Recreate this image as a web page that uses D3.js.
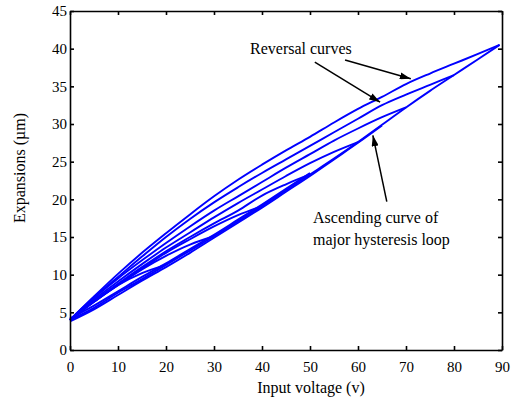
<!DOCTYPE html>
<html lang="en">
  <head>
    <meta charset="UTF-8" />
    <title>Hysteresis</title>
    <style>
      body { margin: 0; background: #fff; }
      svg text { font-family: "Liberation Serif", "DejaVu Serif", Times, serif !important; fill: #000; }
      .axis path, .axis line { stroke: #000; stroke-width: 1.6; }
    </style>
  </head>
  <body>
    <div id="app"></div>
    <script src="https://cdn.jsdelivr.net/npm/d3@7"></script>
    <script>
      // tick values
      const xTicks = [0, 10, 20, 30, 40, 50, 60, 70, 80, 90];
      const yTicks = [0, 5, 10, 15, 20, 25, 30, 35, 40, 45];

      // ascending curve of the major loop (voltage, expansion)
      const ascending = [[0,4.0],[5,5.6],[10,7.6],[15,9.4],[20,11.3],[25,13.2],[30,15.1],[35,17.1],[40,19.1],[45,21.2],[50,23.3],[55,25.4],[60,27.6],[65,29.9],[70,32.2],[75,34.4],[80,36.5],[85,38.6],[89.5,40.5]];
      // repeated ascending passes (they thicken the lower band)
      const ascending2 = [[0,3.8],[5,5.4],[10,7.3],[15,9.2],[20,11.0],[25,12.9],[30,14.9],[35,16.9],[40,18.9],[45,21.0],[50,23.1],[55,25.3],[60,27.5],[65,29.8]];
      const ascending3 = [[0,4.2],[5,5.9],[10,7.8],[15,9.7],[20,11.5],[25,13.4],[30,15.3],[35,17.3],[40,19.3],[45,21.4],[50,23.5]];
      // descending curves from the reversal points 90, 80, 70, 60, 50, 40, 30, 20 V
      const rev90 = [[89.5,40.5],[85,39.3],[80,38.0],[75,36.7],[70,35.3],[65,33.6],[60,32.0],[55,30.2],[50,28.3],[45,26.5],[40,24.6],[35,22.6],[30,20.4],[25,18.0],[20,15.5],[15,12.9],[10,10.1],[5,7.1],[0,4.0]];
      const rev80 = [[80,36.5],[75,35.2],[70,33.9],[65,32.5],[60,30.7],[55,28.9],[50,27.1],[45,25.3],[40,23.5],[35,21.6],[30,19.6],[25,17.4],[20,15.0],[15,12.4],[10,9.7],[5,7.0],[0,4.0]];
      const rev70 = [[70,32.2],[65,30.9],[60,29.4],[55,27.8],[50,26.0],[45,24.2],[40,22.3],[35,20.4],[30,18.5],[25,16.4],[20,14.2],[15,11.9],[10,9.5],[5,6.9],[0,4.0]];
      const rev60 = [[60,27.6],[55,26.3],[50,24.8],[45,23.1],[40,21.3],[35,19.5],[30,17.6],[25,15.6],[20,13.6],[15,11.4],[10,9.1],[5,6.7],[0,4.0]];
      const rev50 = [[50,23.3],[45,22.0],[40,20.5],[35,18.5],[30,16.8],[25,15.0],[20,13.1],[15,11.0],[10,8.8],[5,6.5],[0,4.0]];
      const rev40 = [[40,19.1],[35,17.9],[30,16.4],[25,14.7],[20,12.9],[15,10.8],[10,8.7],[5,6.4],[0,4.0]];
      const rev30 = [[30,15.1],[25,14.0],[20,12.5],[15,10.7],[10,8.6],[5,6.4],[0,4.0]];
      const rev20 = [[20,11.3],[15,10.2],[10,8.6],[5,6.4],[0,4.0]];
      const curves = [ascending, ascending2, ascending3, rev90, rev80, rev70, rev60, rev50, rev40, rev30, rev20];

      const width = 513, height = 403;
      const margin = { left: 70, right: 11, top: 11, bottom: 53 };

      const svg = d3.select("#app").append("svg")
        .attr("width", width).attr("height", height);

      const x = d3.scaleLinear().domain([0, 90]).range([margin.left, width - margin.right]);
      const y = d3.scaleLinear().domain([0, 45]).range([height - margin.bottom, margin.top]);

      // curves
      const line = d3.line().x(d => x(d[0])).y(d => y(d[1])).curve(d3.curveMonotoneX);
      svg.append("g").selectAll("path").data(curves).enter().append("path")
        .attr("d", line)
        .attr("fill", "none")
        .attr("stroke", "#0000ff")
        .attr("stroke-width", 1.9)
        .attr("stroke-linejoin", "round");

      // axes, ticks pointing inwards, box on all four sides
      const tick = 4;
      svg.append("g").attr("class", "axis")
        .attr("transform", `translate(0,${y(0)})`)
        .call(d3.axisBottom(x).tickValues(xTicks).tickSizeInner(-tick).tickSizeOuter(0).tickPadding(11))
        .call(g => g.selectAll("text").attr("font-size", 15));
      svg.append("g").attr("class", "axis")
        .attr("transform", `translate(${x(0)},0)`)
        .call(d3.axisLeft(y).tickValues(yTicks).tickSizeInner(-tick).tickSizeOuter(0).tickPadding(3))
        .call(g => g.selectAll("text").attr("font-size", 15));
      svg.append("g").attr("class", "axis")
        .attr("transform", `translate(0,${y(45)})`)
        .call(d3.axisTop(x).tickValues(xTicks).tickSizeInner(-tick).tickSizeOuter(0).tickFormat(""));
      svg.append("g").attr("class", "axis")
        .attr("transform", `translate(${x(90)},0)`)
        .call(d3.axisRight(y).tickValues(yTicks).tickSizeInner(-tick).tickSizeOuter(0).tickFormat(""));

      // axis titles
      svg.append("text")
        .attr("x", 311).attr("y", 393)
        .attr("text-anchor", "middle").attr("font-size", 16)
        .text("Input voltage (v)");
      svg.append("text")
        .attr("transform", `translate(25,168) rotate(-90)`)
        .attr("text-anchor", "middle").attr("font-size", 16)
        .text("Expansions (\u00b5m)");

      // annotations
      const defs = svg.append("defs");
      defs.append("marker").attr("id", "arr")
        .attr("viewBox", "0 0 10 10").attr("refX", 10).attr("refY", 5)
        .attr("markerWidth", 11).attr("markerHeight", 7).attr("markerUnits", "userSpaceOnUse")
        .attr("orient", "auto")
        .attr("preserveAspectRatio", "none")
        .append("path").attr("d", "M0,0L10,5L0,10z").attr("fill", "#000");

      const arrows = [
        [[57.3, 38.5], [71.0, 36.0]],
        [[51.0, 38.2], [64.6, 32.9]],
        [[66.0, 19.7], [63.1, 28.5]]
      ];
      svg.append("g").selectAll("line").data(arrows).enter().append("line")
        .attr("x1", d => x(d[0][0])).attr("y1", d => y(d[0][1]))
        .attr("x2", d => x(d[1][0])).attr("y2", d => y(d[1][1]))
        .attr("stroke", "#000").attr("stroke-width", 1.5)
        .attr("marker-end", "url(#arr)");

      svg.append("text").attr("x", 250).attr("y", 54).attr("font-size", 16)
        .text("Reversal curves");
      svg.append("text").attr("x", 313).attr("y", 223).attr("font-size", 16)
        .text("Ascending curve of");
      svg.append("text").attr("x", 313).attr("y", 245).attr("font-size", 16)
        .text("major hysteresis loop");
    </script>
  </body>
</html>
